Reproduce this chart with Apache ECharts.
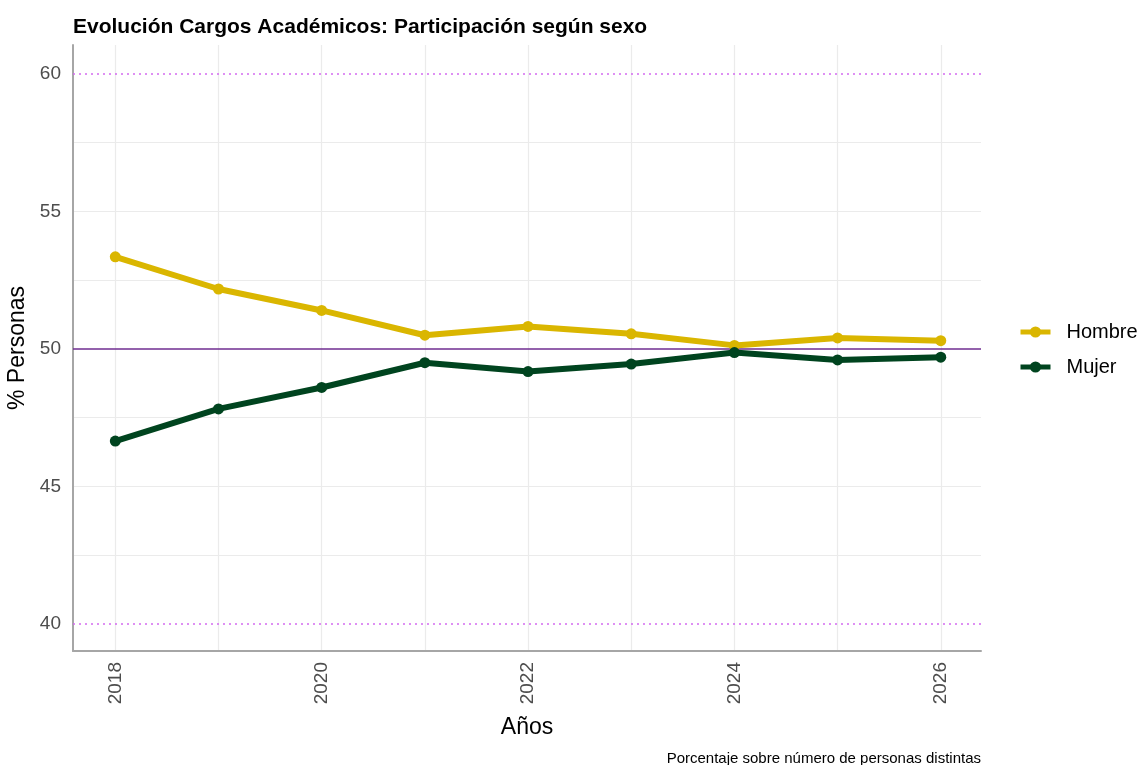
<!DOCTYPE html>
<html>
<head>
<meta charset="utf-8">
<script src="https://cdn.jsdelivr.net/npm/echarts@6/dist/echarts.min.js"></script>
<style>
  html, body { margin: 0; padding: 0; background: #fff; }
  #chart { width: 1143px; height: 765px; }
</style>
</head>
<body>
<div id="chart"></div>
<script>
const years = [2018, 2019, 2020, 2021, 2022, 2023, 2024, 2025, 2026]
const hombre = [53.35, 52.18, 51.4, 50.5, 50.82, 50.55, 50.13, 50.4, 50.3]
const mujer = [46.65, 47.82, 48.6, 49.5, 49.18, 49.45, 49.87, 49.6, 49.7]
const xTicks = [2018, 2020, 2022, 2024, 2026]
const yTicks = [40, 45, 50, 55, 60]
const yGrid = [42.5, 45, 47.5, 52.5, 55, 57.5]

const fontFamily = '"Liberation Sans", Arial, sans-serif'

const chart = echarts.init(document.getElementById('chart'))

const gridLine = { color: '#ebebeb', width: 1.2, type: 'solid' }

chart.setOption({
  animation: false,
  textStyle: { fontFamily },
  title: [
    {
      text: 'Evolución Cargos Académicos: Participación según sexo',
      left: 68, top: 12,
      textStyle: { fontSize: 21, fontWeight: 'bold', color: '#000', fontFamily }
    },
    {
      text: 'Porcentaje sobre número de personas distintas',
      right: 157, top: 746,
      textStyle: { fontSize: 15, fontWeight: 'normal', color: '#000', fontFamily }
    }
  ],
  legend: {
    orient: 'vertical',
    left: 1013, top: 317,
    itemWidth: 30, itemHeight: 14, itemGap: 15,
    lineStyle: { width: 5 },
    itemStyle: { borderWidth: 0 },
    textStyle: { fontSize: 20, color: '#000', fontFamily, padding: [0, 0, 0, 11] },
    data: ['Hombre', 'Mujer']
  },
  grid: { left: 73, right: 162, top: 45, bottom: 114, containLabel: false, outerBoundsMode: 'none' },
  xAxis: {
    type: 'value',
    min: 2017.59, max: 2026.39,
    name: 'Años', nameLocation: 'middle', nameGap: 65,
    nameTextStyle: { fontSize: 23, color: '#000', fontFamily },
    axisLine: { show: true, lineStyle: { color: '#a6a6a6', width: 2 } },
    axisTick: { show: false },
    splitLine: { show: false },
    axisLabel: {
      customValues: xTicks,
      rotate: 90, margin: 11,
      fontSize: 19, color: '#4d4d4d', fontFamily,
      formatter: (v) => String(v)
    }
  },
  yAxis: {
    type: 'value',
    min: 39.02, max: 61.05,
    name: '% Personas', nameLocation: 'middle', nameGap: 34,
    nameTextStyle: { fontSize: 23, color: '#000', fontFamily },
    axisLine: { show: true, lineStyle: { color: '#a6a6a6', width: 2 } },
    axisTick: { show: false },
    splitLine: { show: false },
    axisLabel: {
      customValues: yTicks,
      margin: 12,
      fontSize: 19, color: '#4d4d4d', fontFamily
    }
  },
  series: [
    {
      name: 'grid',
      type: 'line',
      data: [],
      silent: true,
      z: 0,
      markLine: {
        silent: true,
        z: 0,
        symbol: ['none', 'none'],
        label: { show: false },
        lineStyle: gridLine,
        data: [
          ...years.map((y) => ({ xAxis: y })),
          ...yGrid.map((v) => ({ yAxis: v }))
        ]
      }
    },
    {
      name: 'refs',
      type: 'line',
      data: [],
      silent: true,
      z: 1,
      markLine: {
        silent: true,
        z: 1,
        symbol: ['none', 'none'],
        label: { show: false },
        data: [
          { yAxis: 50, lineStyle: { color: '#6f2d91', width: 1.5, type: 'solid' } },
          { yAxis: 40, lineStyle: { color: '#d36bf0', width: 1.5, type: [2, 4] } },
          { yAxis: 60, lineStyle: { color: '#d36bf0', width: 1.5, type: [2, 4] } }
        ]
      }
    },
    {
      name: 'Hombre',
      type: 'line',
      z: 10,
      data: years.map((y, i) => [y, hombre[i]]),
      symbol: 'circle',
      symbolSize: 11,
      lineStyle: { width: 6, color: '#dab600' },
      itemStyle: { color: '#dab600', borderWidth: 0 }
    },
    {
      name: 'Mujer',
      type: 'line',
      z: 10,
      data: years.map((y, i) => [y, mujer[i]]),
      symbol: 'circle',
      symbolSize: 11,
      lineStyle: { width: 6, color: '#00441f' },
      itemStyle: { color: '#00441f', borderWidth: 0 }
    }
  ]
})
</script>
</body>
</html>
